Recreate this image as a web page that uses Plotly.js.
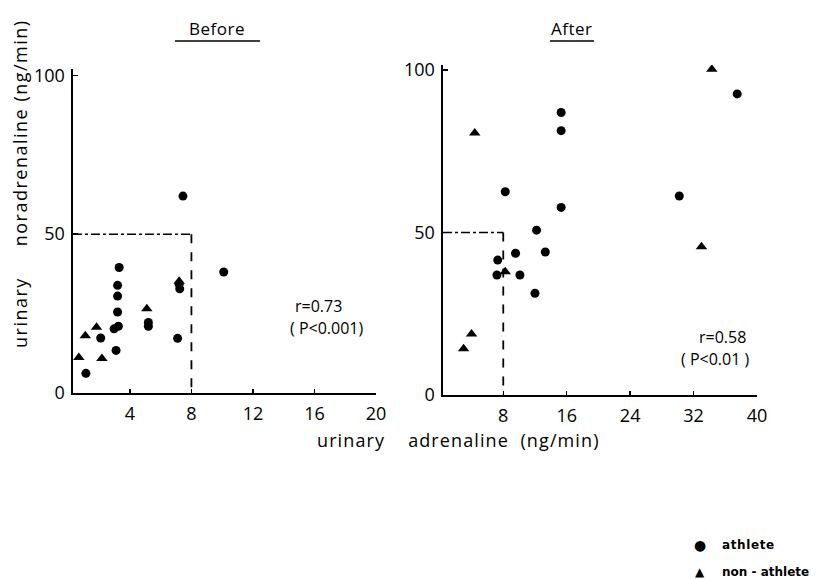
<!DOCTYPE html>
<html>
<head>
<meta charset="utf-8">
<script src="https://cdn.plot.ly/plotly-3.0.1.min.js"></script>
<style>html,body{margin:0;padding:0;background:#fff;}#chart{width:823px;height:579px;}</style>
</head>
<body>
<div id="chart"></div>
<script>
// ---- data ----
// Before: urinary adrenaline (x) vs noradrenaline (y)
var beforeAthleteX = [7.45, 3.3, 3.2, 3.2, 3.2, 3.25, 2.97, 3.1, 2.1, 1.14, 5.2, 5.2, 7.24, 7.2, 7.1, 10.1];
var beforeAthleteY = [62, 39.5, 33.9, 30.5, 25.5, 21, 20.2, 13.4, 17.3, 6.2, 22.2, 21, 32.8, 34.2, 17.2, 38.1];
var beforeNonX = [0.68, 1.1, 1.83, 2.18, 5.1, 7.2];
var beforeNonY = [11.2, 18, 20.7, 10.9, 26.5, 35.2];
// After
var afterAthleteX = [37.5, 15.3, 15.3, 8.25, 30.2, 15.3, 12.2, 9.55, 13.3, 7.3, 7.2, 10.1, 12.0];
var afterAthleteY = [92.6, 86.9, 81.3, 62.5, 61.2, 57.7, 50.7, 43.6, 44, 41.5, 36.9, 36.9, 31.3];
var afterNonX = [34.3, 4.4, 8.25, 33.0, 4.0, 3.0];
var afterNonY = [100.2, 80.6, 37.9, 45.6, 18.8, 14.2];
// reference limits
var limitX = 8;
var limitY = 50;
// ticks
var beforeXTicks = [4, 8, 12, 16, 20];
var afterXTicks = [8, 16, 24, 32, 40];
var yTicks = [0, 50, 100];
var statsBefore = ["r=0.73", "( P&lt;0.001)"];
var statsAfter = ["r=0.58", "( P&lt;0.01 )"];
var legendNames = ["athlete", "non - athlete"];
var legendSymbols = ["\u25CF", "\u25B2"];

var W = 823, H = 579;
function px(x){ return x / W; }
function py(y){ return 1 - y / H; }

var FONT = "Open Sans, DejaVu Sans, sans-serif";

var circ = {symbol: 'circle', size: 9, color: '#000'};
var tri = {symbol: 'triangle-up', size: 10, color: '#000'};

var traces = [
  {x: beforeAthleteX, y: beforeAthleteY, xaxis: 'x', yaxis: 'y', mode: 'markers', type: 'scatter',
   marker: circ, name: legendNames[0], showlegend: false},
  {x: beforeNonX, y: beforeNonY, xaxis: 'x', yaxis: 'y', mode: 'markers', type: 'scatter',
   marker: tri, name: legendNames[1], showlegend: false},
  {x: afterAthleteX, y: afterAthleteY, xaxis: 'x2', yaxis: 'y2', mode: 'markers', type: 'scatter',
   marker: circ, name: legendNames[0], showlegend: false},
  {x: afterNonX, y: afterNonY, xaxis: 'x2', yaxis: 'y2', mode: 'markers', type: 'scatter',
   marker: tri, name: legendNames[1], showlegend: false}
];

function xax(domain, range, ticks, anchor){
  return {domain: domain, range: range, tickvals: ticks, ticktext: ticks.map(String),
    ticks: 'inside', ticklen: 4, tickwidth: 1.5, tickcolor: '#000',
    showline: true, linewidth: 1.5, linecolor: '#000', showgrid: false, zeroline: false,
    anchor: anchor, tickfont: {family: FONT, size: 18, color: '#000'}, ticklabelstandoff: 4, fixedrange: true};
}
function yax(domain, range, anchor){
  return {domain: domain, range: range, tickvals: yTicks, ticktext: yTicks.map(String),
    ticks: 'inside', ticklen: 5, tickwidth: 1.5, tickcolor: '#000',
    showline: true, linewidth: 2.5, linecolor: '#000', showgrid: false, zeroline: false,
    anchor: anchor, tickfont: {family: FONT, size: 18, color: '#000'}, ticklabelstandoff: 2, fixedrange: true};
}

function ann(text, x, y, size, extra){
  var a = {text: text, xref: 'paper', yref: 'paper', x: px(x), y: py(y), xanchor: 'center', yanchor: 'middle',
    showarrow: false, font: {family: FONT, size: size, color: '#000'}};
  if (extra) for (var k in extra) a[k] = extra[k];
  return a;
}
function spaced(t, ls){ return '<span style="letter-spacing:' + ls + 'px">' + t + '</span>'; }

var legFont = {family: 'DejaVu Sans', size: 12, color: '#000', weight: 'bold'};

var layout = {
  width: W, height: H,
  margin: {l: 0, r: 0, t: 0, b: 0},
  paper_bgcolor: '#fff', plot_bgcolor: 'rgba(0,0,0,0)',
  showlegend: false,
  xaxis: xax([px(73), px(376)], [0.3, 20], beforeXTicks, 'y'),
  yaxis: yax([py(393), py(69)], [0, 102], 'x'),
  xaxis2: xax([px(443), px(757)], [0.4, 40], afterXTicks, 'y2'),
  yaxis2: yax([py(395), py(65)], [0, 101.5], 'x2'),
  shapes: [
    {type: 'line', xref: 'x', yref: 'y', x0: 0.3, x1: limitX, y0: limitY, y1: limitY, line: {color: '#000', width: 1.5, dash: 'dashdot'}},
    {type: 'line', xref: 'x', yref: 'y', x0: limitX, x1: limitX, y0: limitY, y1: 0, line: {color: '#000', width: 1.8, dash: 'dash'}},
    {type: 'line', xref: 'x2', yref: 'y2', x0: 0.4, x1: limitX, y0: limitY, y1: limitY, line: {color: '#000', width: 1.5, dash: 'dashdot'}},
    {type: 'line', xref: 'x2', yref: 'y2', x0: limitX, x1: limitX, y0: limitY, y1: 0, line: {color: '#000', width: 1.8, dash: 'dash'}},
    {type: 'line', xref: 'paper', yref: 'paper', x0: px(175), x1: px(260), y0: py(41), y1: py(41), line: {color: '#000', width: 1.5}},
    {type: 'line', xref: 'paper', yref: 'paper', x0: px(550), x1: px(594), y0: py(41), y1: py(41), line: {color: '#000', width: 1.5}}
  ],
  annotations: [
    ann(spaced('Before', 0.5), 217, 29, 17),
    ann(spaced('After', 0.5), 572, 29, 17),
    ann(statsBefore[0], 318, 306, 16),
    ann(statsBefore[1], 326, 328, 16),
    ann(statsAfter[0], 722, 337, 16),
    ann(statsAfter[1], 715, 359, 16),
    ann(spaced('urinary&nbsp;&nbsp;&nbsp;&nbsp; noradrenaline (ng/min)', 1.5), 20, 184, 18, {textangle: -90}),
    ann(spaced('urinary&nbsp;&nbsp;&nbsp; adrenaline&nbsp; (ng/min)', 1.1), 458, 440, 18),
    ann(legendSymbols[0], 700, 545, 13, {font: {family: 'DejaVu Sans', size: 14, color: '#000'}}),
    ann(legendSymbols[1], 700, 572, 13, {font: {family: 'DejaVu Sans', size: 12, color: '#000'}}),
    ann(spaced(legendNames[0], 0.6), 720, 545, 12, {xanchor: 'left', font: legFont}),
    ann(legendNames[1], 720, 572, 12, {xanchor: 'left', font: legFont})
  ]
};

Plotly.newPlot('chart', traces, layout, {displayModeBar: false, staticPlot: true});
</script>
</body>
</html>
